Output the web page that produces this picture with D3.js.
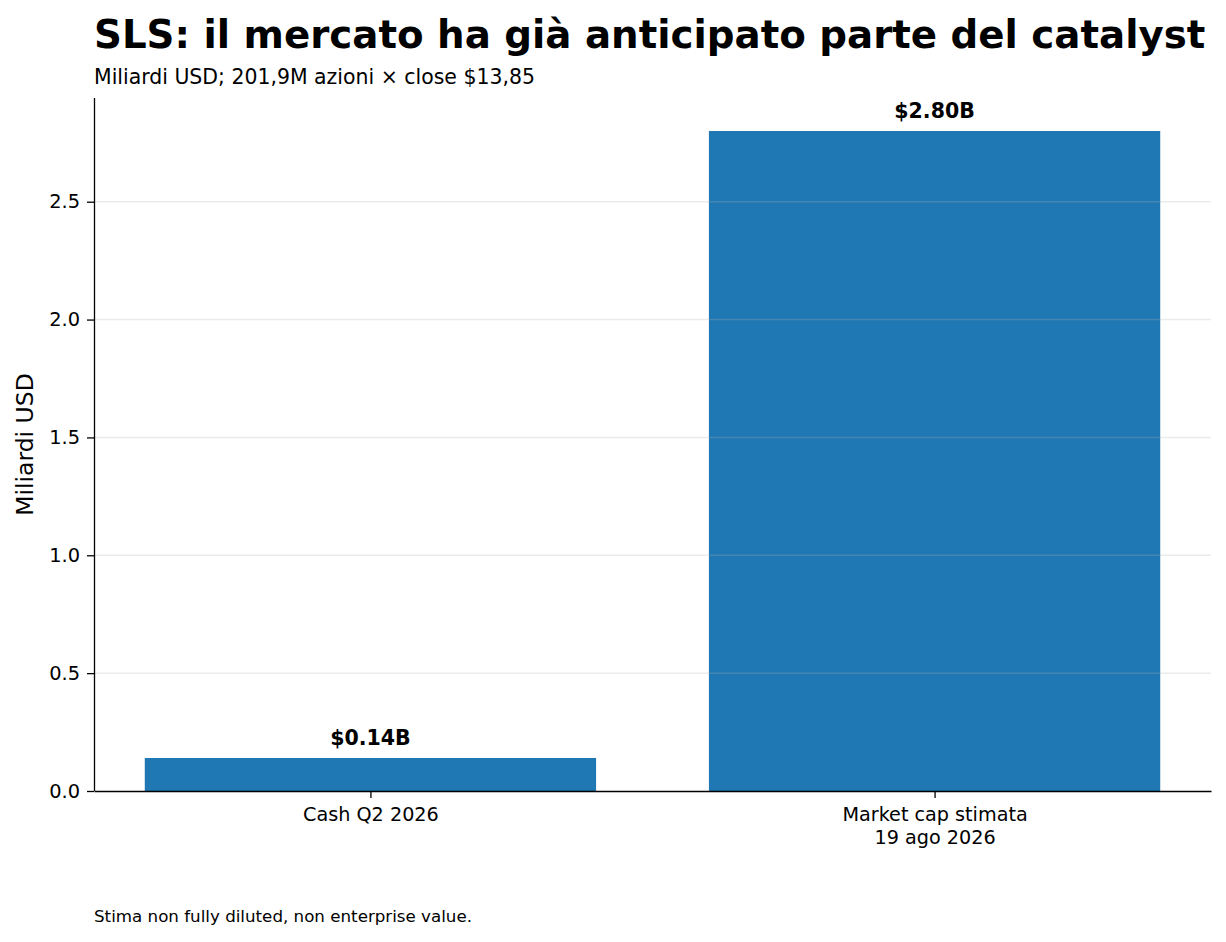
<!DOCTYPE html>
<html>
<head>
<meta charset="utf-8">
<script src="https://cdn.jsdelivr.net/npm/d3@7"></script>
<style>
  body { margin: 0; background: #fff; }
  svg { display: block; font-family: "DejaVu Sans", sans-serif; }
</style>
</head>
<body>
<svg class="chart"></svg>
<script>
// data
var categories = [["Cash Q2 2026"], ["Market cap stimata", "19 ago 2026"]];
var values = [0.14, 2.80];
var valueLabels = ["$0.14B", "$2.80B"];
var yTicks = [0, 0.5, 1.0, 1.5, 2.0, 2.5];

var width = 1226,
    height = 942;

var margin = {left: 94, right: 15, top: 98, bottom: 151};

var svg = d3.select(".chart")
    .attr("width", width)
    .attr("height", height);

// bars sit on integer positions, width 0.8, matplotlib-like margins
var x = d3.scaleLinear()
    .domain([-0.49, values.length - 1 + 0.49])
    .range([margin.left, width - margin.right]);

var y = d3.scaleLinear()
    .domain([0, d3.max(values) * 1.05])
    .range([height - margin.bottom, margin.top]);

var barWidth = x(0.8) - x(0);

svg.append("g")
    .selectAll("rect")
    .data(values)
    .enter().append("rect")
        .attr("x", (d, i) => x(i) - barWidth / 2)
        .attr("y", d => y(d))
        .attr("width", barWidth)
        .attr("height", d => y(0) - y(d))
        .attr("fill", "#1f77b4");

// light grid, drawn over the bars like the reference
svg.append("g")
    .selectAll("line")
    .data(yTicks.filter(t => t > 0))
    .enter().append("line")
        .attr("x1", x.range()[0])
        .attr("x2", x.range()[1])
        .attr("y1", d => y(d))
        .attr("y2", d => y(d))
        .attr("stroke", "#b0b0b0")
        .attr("stroke-opacity", 0.25)
        .attr("stroke-width", 1.5);

// value labels above bars
svg.append("g")
    .selectAll("text")
    .data(values)
    .enter().append("text")
        .attr("x", (d, i) => x(i))
        .attr("y", d => y(d) - 13)
        .attr("text-anchor", "middle")
        .attr("font-size", 20.5)
        .attr("font-weight", "bold")
        .text((d, i) => valueLabels[i]);

// y axis
var yAxis = svg.append("g")
    .attr("transform", "translate(" + margin.left + ",0)")
    .call(d3.axisLeft(y).tickValues(yTicks).tickFormat(d3.format(".1f")).tickSize(7).tickPadding(7));
yAxis.select(".domain").attr("stroke", "#000").attr("stroke-width", 1.3).attr("d", "M0.5," + y.range()[1] + "V" + y(0));
yAxis.selectAll(".tick line").attr("stroke-width", 1.3);
yAxis.selectAll(".tick text").attr("font-size", 19.4).attr("fill", "#000").attr("font-family", "DejaVu Sans");

// x axis
var xAxis = svg.append("g")
    .attr("transform", "translate(0," + y(0) + ")")
    .call(d3.axisBottom(x).tickValues(d3.range(values.length)).tickFormat("").tickSize(7).tickSizeOuter(0));
xAxis.select(".domain").attr("stroke", "#000").attr("stroke-width", 1.3);
xAxis.selectAll(".tick line").attr("stroke-width", 1.3);

xAxis.selectAll(".tick")
    .append("text")
        .attr("fill", "#000")
        .attr("font-size", 19.2)
        .attr("font-family", "DejaVu Sans")
        .attr("text-anchor", "middle")
        .selectAll("tspan")
        .data(d => categories[d])
        .enter().append("tspan")
            .attr("x", 0)
            .attr("y", (d, i) => 30 + i * 22.5)
            .text(d => d);

// y axis title
svg.append("text")
    .attr("transform", "translate(33," + ((y.range()[0] + y.range()[1]) / 2) + ") rotate(-90)")
    .attr("text-anchor", "middle")
    .attr("font-size", 23.5)
    .text("Miliardi USD");

// title, subtitle, footnote
svg.append("text")
    .attr("x", margin.left)
    .attr("y", 48)
    .attr("font-size", 38.75)
    .attr("font-weight", "bold")
    .text("SLS: il mercato ha già anticipato parte del catalyst");

svg.append("text")
    .attr("x", margin.left)
    .attr("y", 84)
    .attr("font-size", 20.45)
    .text("Miliardi USD; 201,9M azioni × close $13,85");

svg.append("text")
    .attr("x", margin.left)
    .attr("y", 922)
    .attr("font-size", 16.7)
    .text("Stima non fully diluted, non enterprise value.");
</script>
</body>
</html>
